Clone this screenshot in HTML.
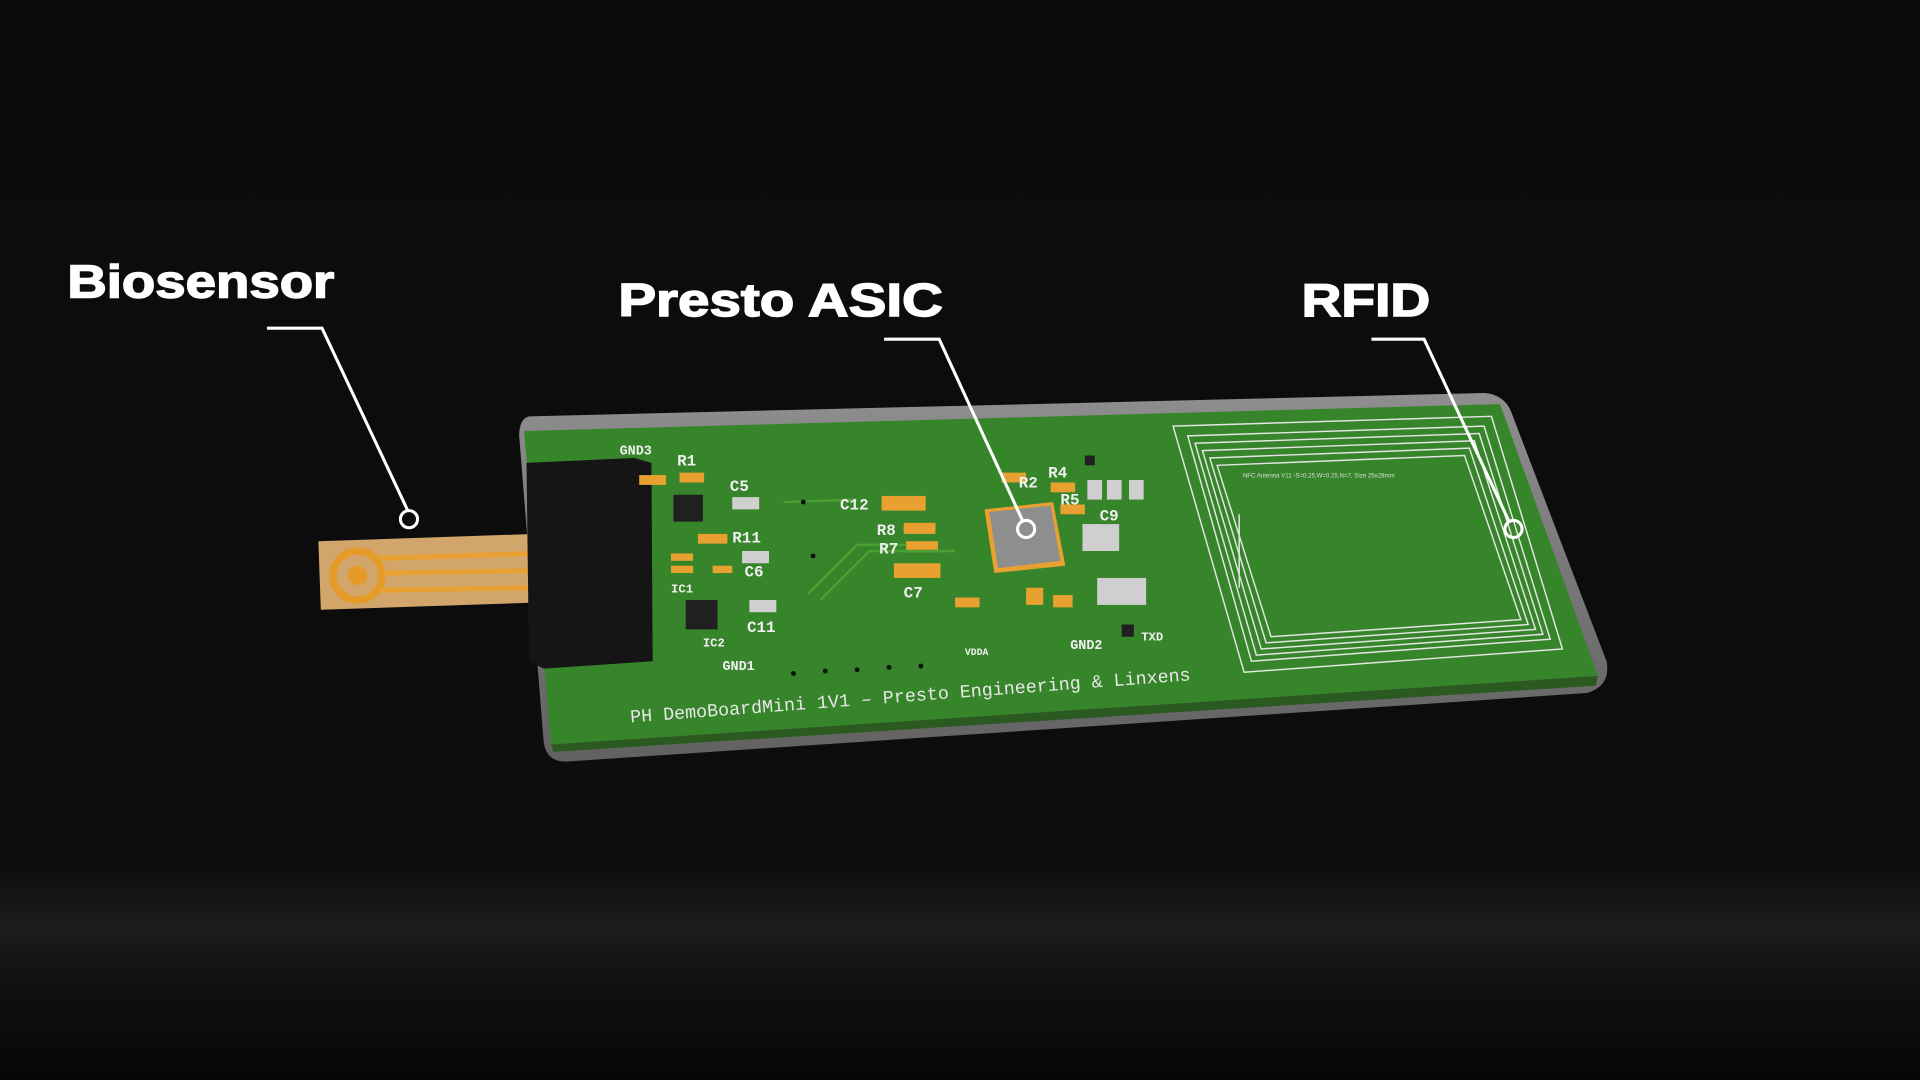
<!DOCTYPE html>
<html><head><meta charset="utf-8"><style>
html,body{margin:0;padding:0;background:#0b0b0b;width:1920px;height:1080px;overflow:hidden}
svg{display:block}
</style></head><body>
<svg width="1920" height="1080" viewBox="0 0 1568 882" xmlns="http://www.w3.org/2000/svg">
<defs>
<linearGradient id="bg" x1="0" y1="0" x2="0" y2="1">
<stop offset="0" stop-color="#0b0b0b"/><stop offset="0.8" stop-color="#0d0d0d"/>
<stop offset="0.86" stop-color="#1c1c1c"/><stop offset="0.9" stop-color="#121212"/><stop offset="1" stop-color="#060606"/>
</linearGradient>
<linearGradient id="case" x1="0" y1="0" x2="0" y2="1">
<stop offset="0" stop-color="#a5a5a5"/><stop offset="1" stop-color="#707070"/>
</linearGradient>
</defs>
<rect width="1568" height="882" fill="url(#bg)"/>
<path d="M432,340 L1212,321 Q1228,322 1234,336 L1312,540 Q1316,560 1296,566 L462,622 Q446,622 444,606 L424,356 Q424,342 432,340 Z" fill="url(#case)" opacity="0.85"/>
<path d="M428,352 L1225,330 L1305,552 L450,608 Z" fill="#37852a"/>
<path d="M450,608 L1305,552 L1303,560 L452,614 Z" fill="#2a5a20"/>
<polygon points="260,442 438,436 440,492 262,498" fill="#d2a66a"/>
<circle cx="292" cy="470" r="20" fill="none" stroke="#e59a2a" stroke-width="6"/>
<circle cx="292" cy="470" r="8" fill="#e59a2a"/>
<g stroke="#e8a030" stroke-width="4"><line x1="310" y1="456" x2="436" y2="452"/><line x1="312" y1="468" x2="436" y2="466"/><line x1="310" y1="482" x2="436" y2="480"/></g>
<polygon points="430,378 518,374 532,378 533,540 444,546 432,540" fill="#151515"/>
<g fill="#e8a030">
<rect x="522" y="388" width="22" height="8"/><rect x="555" y="386" width="20" height="8"/>
<rect x="570" y="436" width="24" height="8"/><rect x="548" y="452" width="18" height="6"/><rect x="548" y="462" width="18" height="6"/>
<rect x="582" y="462" width="16" height="6"/><rect x="720" y="405" width="36" height="12"/><rect x="738" y="427" width="26" height="9"/>
<rect x="740" y="442" width="26" height="9"/><rect x="730" y="460" width="38" height="12"/><rect x="818" y="386" width="20" height="8"/>
<rect x="858" y="394" width="20" height="8"/><rect x="866" y="412" width="20" height="8"/><rect x="780" y="488" width="20" height="8"/>
<rect x="838" y="480" width="14" height="14"/><rect x="860" y="486" width="16" height="10"/>
</g>
<g fill="#202020"><rect x="550" y="404" width="24" height="22"/><rect x="560" y="490" width="26" height="24"/><rect x="916" y="510" width="10" height="10"/><rect x="886" y="372" width="8" height="8"/></g>
<g fill="#cfcfcf"><rect x="598" y="406" width="22" height="10"/><rect x="606" y="450" width="22" height="10"/><rect x="612" y="490" width="22" height="10"/>
<rect x="884" y="428" width="30" height="22"/><rect x="896" y="472" width="40" height="22"/><rect x="888" y="392" width="12" height="16"/><rect x="904" y="392" width="12" height="16"/><rect x="922" y="392" width="12" height="16"/></g>
<polygon points="804,416 860,410 870,462 812,468" fill="#e8a030"/>
<polygon points="808,418 858,413 866,458 815,464" fill="#8e8e8e"/>
<g stroke="#4aa030" stroke-width="2" fill="none"><path d="M660,485 L700,445 L740,445"/><path d="M670,490 L710,450 L780,450"/><path d="M640,410 L700,408"/></g>
<g fill="#111"><circle cx="648" cy="550" r="2"/><circle cx="674" cy="548" r="2"/><circle cx="700" cy="547" r="2"/><circle cx="726" cy="545" r="2"/><circle cx="752" cy="544" r="2"/><circle cx="656" cy="410" r="2"/><circle cx="664" cy="454" r="2"/></g>
<g fill="#f0f0f0" font-family="Liberation Mono, monospace" font-size="13" font-weight="bold">
<text x="506" y="371" font-size="11">GND3</text><text x="553" y="380">R1</text><text x="596" y="401">C5</text>
<text x="598" y="443">R11</text><text x="608" y="471">C6</text><text x="610" y="516">C11</text><text x="574" y="528" font-size="10">IC2</text>
<text x="590" y="547" font-size="11">GND1</text><text x="686" y="416">C12</text><text x="716" y="437">R8</text><text x="718" y="452">R7</text>
<text x="738" y="488">C7</text><text x="856" y="390">R4</text><text x="866" y="412">R5</text><text x="898" y="425">C9</text><text x="832" y="398">R2</text>
<text x="874" y="530" font-size="11">GND2</text><text x="932" y="523" font-size="10">TXD</text><text x="788" y="535" font-size="8">VDDA</text>
<text x="548" y="484" font-size="10">IC1</text>
</g>
<text x="515" y="590" fill="#e8e8e8" font-family="Liberation Mono, monospace" font-size="15" transform="rotate(-4.3 515 590)">PH DemoBoardMini 1V1 – Presto Engineering &amp; Linxens</text>
<g fill="none" stroke="#e4e4e4" stroke-width="1.2">
<polygon points="958,348 1218,340 1276,530 1016,549"/>
<polygon points="970,356 1212,348 1266,522 1022,540"/>
<polygon points="976,362 1208,354 1260,518 1026,535"/>
<polygon points="982,368 1204,360 1254,514 1030,530"/>
<polygon points="988,374 1200,366 1248,510 1034,525"/>
<polygon points="994,380 1196,372 1242,506 1038,520"/>
<path d="M1012,420 L1012,480" />
</g>
<text x="1015" y="390" fill="#ddd" font-family="Liberation Sans, sans-serif" font-size="5">NFC Antenna V11 -S=0.25,W=0.25,N=7, Size 25x28mm</text>
<g stroke="#fff" stroke-width="2.5" fill="none">
<polyline points="218,268 263,268 333,417"/><circle cx="334" cy="424" r="7"/>
<polyline points="722,277 767,277 835,425"/><circle cx="838" cy="432" r="7"/>
<polyline points="1120,277 1163,277 1232,425"/><circle cx="1236" cy="432" r="7"/>
</g>
<g fill="#fff" stroke="#fff" stroke-width="1.2" font-family="Liberation Sans, DejaVu Sans, sans-serif" font-weight="bold" font-size="38">
<text x="55" y="243" textLength="218" lengthAdjust="spacingAndGlyphs">Biosensor</text>
<text x="505" y="258" textLength="265" lengthAdjust="spacingAndGlyphs">Presto ASIC</text>
<text x="1063" y="258" textLength="105" lengthAdjust="spacingAndGlyphs">RFID</text>
</g>
</svg>
</body></html>
